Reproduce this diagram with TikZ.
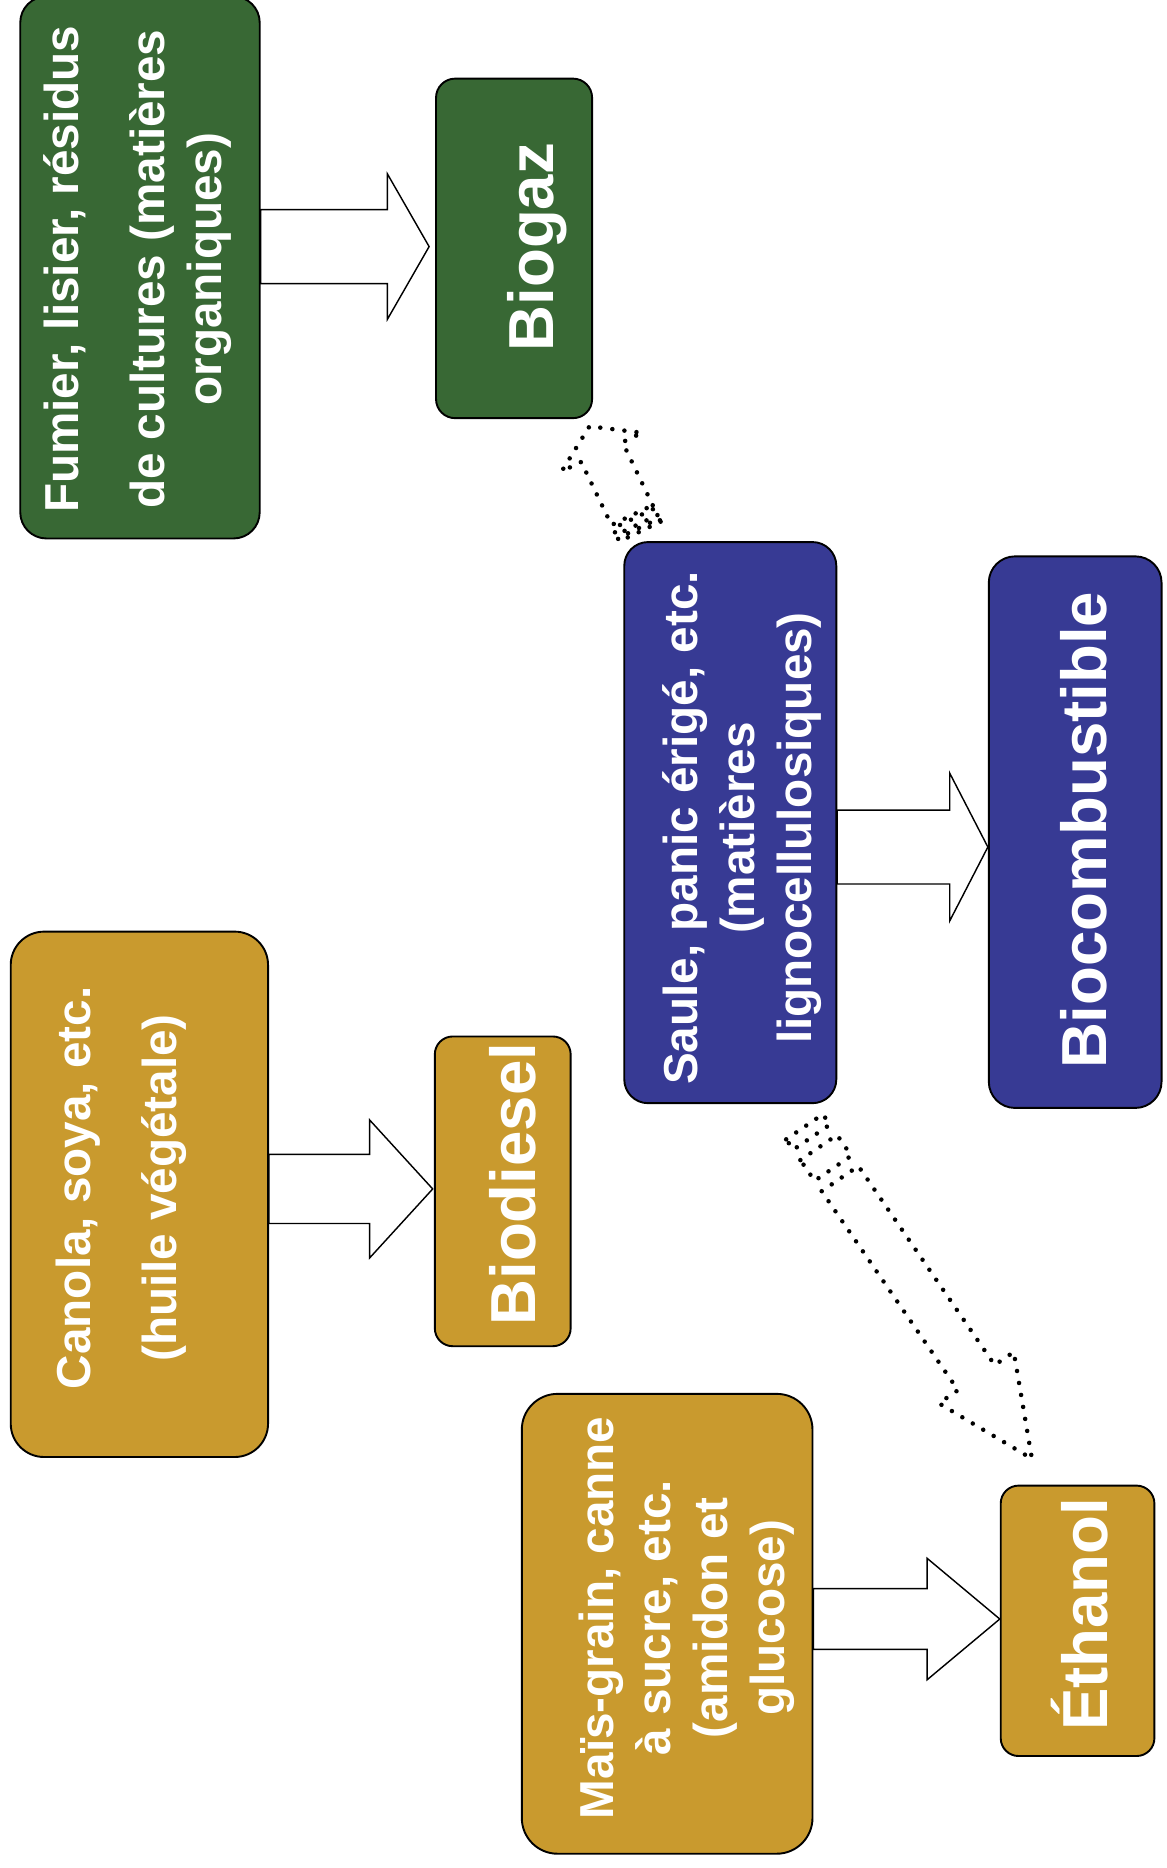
\documentclass[tikz,border=0pt]{standalone}
\usepackage{fontspec}
\setmainfont{Liberation Sans}
\usetikzlibrary{calc}
\definecolor{boxgreen}{RGB}{56,104,52}
\definecolor{boxblue}{RGB}{55,58,148}
\definecolor{boxgold}{RGB}{201,154,46}

\newcommand\blockarrow[5]{%
  \draw[blockarrow] ($(#1.east |- #2)+(0,-#3)$) -- ($(#2)+(-#5,-#3)$) -- ($(#2)+(-#5,-#4)$) -- (#2)
    -- ($(#2)+(-#5,#4)$) -- ($(#2)+(-#5,#3)$) -- ($(#1.east |- #2)+(0,#3)$) -- cycle;}

\newcommand\stripedarrow[5]{%
  \path let \p1=(#1), \p2=(#2) in \pgfextra{%
    \pgfmathsetmacro\saAng{atan2((\y2)-(\y1),(\x2)-(\x1))}%
    \pgfmathsetmacro\saLen{veclen((\x2)-(\x1),(\y2)-(\y1))}%
    \xdef\saAng{\saAng}\xdef\saLen{\saLen}};
  \pgfmathsetmacro\saUa{\saLen/32}%
  \pgfmathsetmacro\saUb{2*\saLen/32}%
  \pgfmathsetmacro\saUc{4*\saLen/32}%
  \pgfmathsetmacro\saUd{5*\saLen/32}%
  \pgfmathsetmacro\saBase{\saLen-#5}%
  \begin{scope}[shift={(#1)}, rotate=\saAng]
    \draw[dotline] (0pt,-#3pt) rectangle (\saUa pt,#3pt);
    \draw[dotline] (\saUb pt,-#3pt) rectangle (\saUc pt,#3pt);
    \draw[dotline] (\saUd pt,-#3pt) -- (\saBase pt,-#3pt) -- (\saBase pt,-#4pt) -- (\saLen pt,0pt)
      -- (\saBase pt,#4pt) -- (\saBase pt,#3pt) -- (\saUd pt,#3pt) -- cycle;
  \end{scope}}

\begin{document}
\begin{tikzpicture}[x=0.5pt,y=-0.5pt,
  box/.style={draw=black, line width=0.8pt, rectangle, inner sep=0pt},
  txt/.style={text=white, font=\bfseries\fontsize{20}{24}\selectfont, align=center, rotate=90, inner sep=0pt, anchor=north},
  big/.style={text=white, font=\bfseries\fontsize{26.7}{32}\selectfont, rotate=90, inner sep=0pt, anchor=base},
  blockarrow/.style={draw=black, fill=white, line width=0.6pt, line join=miter},
  dotline/.style={line width=1.9pt, line cap=round, dash pattern=on 0pt off 5.1pt}]

\useasboundingbox (0,0) rectangle (979,1568);

% boxes
\node[box, fill=boxgreen, rounded corners=11pt, minimum width=100.5pt, minimum height=227.5pt] (fumier) at (117.5,224.5) {};
\node[box, fill=boxgreen, rounded corners=8pt, minimum width=65.5pt, minimum height=142.5pt] (biogaz) at (431.5,208.5) {};
\node[box, fill=boxblue, rounded corners=10pt, minimum width=89pt, minimum height=235.5pt] (saule) at (613,690.5) {};
\node[box, fill=boxblue, rounded corners=11pt, minimum width=72.5pt, minimum height=231.5pt] (biocomb) at (902.5,698.5) {};
\node[box, fill=boxgold, rounded corners=14pt, minimum width=108pt, minimum height=220.5pt] (canola) at (117,1002.5) {};
\node[box, fill=boxgold, rounded corners=7.5pt, minimum width=57pt, minimum height=130pt] (biodiesel) at (422,1000) {};
\node[box, fill=boxgold, rounded corners=15pt, minimum width=122pt, minimum height=193pt] (mais) at (560,1363) {};
\node[box, fill=boxgold, rounded corners=7.5pt, minimum width=64.5pt, minimum height=113.5pt] (ethanol) at (904.5,1360.5) {};

% texts
\node[txt] (fumier-t) at (25.8,226) {\rule{0pt}{20pt}Fumier, lisier, résidus\\[12pt] de cultures (matières\\ organiques)};
\node[txt] (canola-t) at (35.5,997) {\rule{0pt}{20pt}Canola, soya, etc.\\[12pt] (huile végétale)};
\node[txt] (saule-t) at (544.9,695) {\rule{0pt}{20pt}Saule, panic érigé, etc.\\ (matières\\ lignocellulosiques)};
\node[txt] (mais-t) at (474.3,1358) {\rule{0pt}{20pt}Maïs-grain, canne\\ à sucre, etc.\\ (amidon et\\ glucose)};
\node[big] (biogaz-t) at (464.3,207.5) {Biogaz};
\node[big] (biocomb-t) at (928.4,697) {Biocombustible};
\node[big] (biodiesel-t) at (449.9,994) {Biodiesel};
\node[big] (ethanol-t) at (929.9,1355) {Éthanol};

% block arrows
\coordinate (t1) at ($(biogaz.west)+(-5,-1.5)$);
\coordinate (t2) at ($(biocomb.west)+(0,12.5)$);
\coordinate (t3) at ($(biodiesel.west)+(-1,-2)$);
\coordinate (t4) at ($(ethanol.west)+(0,-1.5)$);
\blockarrow{fumier}{t1}{31}{61}{35}
\blockarrow{saule}{t2}{31}{62}{32}
\blockarrow{canola}{t3}{29}{58}{53}
\blockarrow{mais}{t4}{25.5}{51}{61}

% dotted striped arrows
\coordinate (d1tail) at ($(saule.north west)+(14,-8)$);
\coordinate (d1tip) at ($(biogaz.south east)+(-3,6)$);
\coordinate (d2tail) at ($(saule.south east)+(-27.5,19)$);
\coordinate (d2tip) at ($(ethanol.north)+(-38.3,-21.7)$);
\stripedarrow{d1tail}{d1tip}{9.6}{18.7}{12}
\stripedarrow{d2tail}{d2tip}{9.33}{19.05}{41.3}
\end{tikzpicture}
\end{document}
